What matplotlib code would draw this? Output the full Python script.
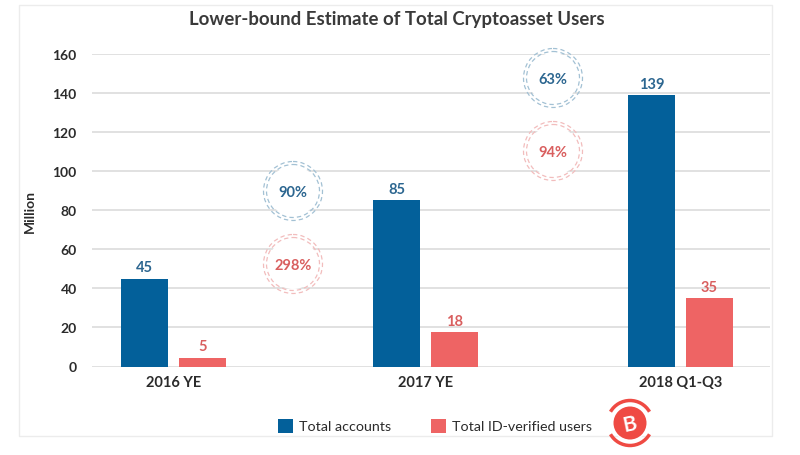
import matplotlib
matplotlib.use('Agg')
import matplotlib.pyplot as plt
from matplotlib.patches import Circle, Rectangle, Arc

plt.rcParams['font.family'] = ['Lato', 'DejaVu Sans']

W, H = 800, 456

categories = ['2016 YE', '2017 YE', '2018 Q1-Q3']
total_accounts = [45, 85, 139]
verified_users = [4.5, 17.5, 35]
accounts_labels = ['45', '85', '139']
verified_labels = ['5', '18', '35']
y_ticks = [0, 20, 40, 60, 80, 100, 120, 140, 160]
growth_accounts = ['90%', '63%']
growth_verified = ['298%', '94%']

BLUE = '#03609a'
RED = '#ee6464'
BLUE_TEXT = '#2c6690'
RED_TEXT = '#d95f5f'
DARK = '#2b2b2b'

fig = plt.figure(figsize=(W / 100, H / 100), dpi=100)

# overlay in pixel coordinates for frame, badges and legend
overlay = fig.add_axes([0, 0, 1, 1], zorder=3)
overlay.set_xlim(0, W)
overlay.set_ylim(H, 0)
overlay.axis('off')
overlay.patch.set_alpha(0)

left, right, top, bottom = 92, 770, 55, 367.5
ax = fig.add_axes([left / W, 1 - bottom / H, (right - left) / W, (bottom - top) / H], zorder=2)

group_x = [173.5, 425.5, 680.5]
bar_w = 47
offset = 29
for i, x in enumerate(group_x):
    ax.bar(x - offset, total_accounts[i], bar_w, color=BLUE, zorder=3)
    ax.bar(x + offset, verified_users[i], bar_w, color=RED, zorder=3)
    ax.text(x - offset, total_accounts[i] + 2.2, accounts_labels[i], ha='center', va='bottom',
            fontsize=10.5, fontweight='bold', color=BLUE_TEXT)
    ax.text(x + offset, verified_users[i] + 2.2, verified_labels[i], ha='center', va='bottom',
            fontsize=10.5, fontweight='bold', color=RED_TEXT)

ax.set_xlim(left, right)
ax.set_ylim(0, 160)
ax.set_yticks(y_ticks)
ax.set_xticks(group_x)
ax.set_xticklabels(categories)
ax.tick_params(axis='both', length=0, labelsize=10.5, labelcolor=DARK)
ax.tick_params(axis='y', labelsize=10, pad=11)
ax.tick_params(axis='x', pad=6)
for label in ax.get_xticklabels() + ax.get_yticklabels():
    label.set_fontweight('bold')
ax.grid(axis='y', color='#dedede', lw=1.3, zorder=0)
ax.set_axisbelow(True)
for s in ax.spines.values():
    s.set_visible(False)
ax.set_ylabel('Million', fontsize=10, fontweight='bold', color=DARK)
ax.yaxis.set_label_coords((36 - left) / (right - left), (bottom - 212) / (bottom - top))

# image frame
overlay.add_patch(Rectangle((19, 6), 753, 431, fill=False, ec='#ececec', lw=1))
overlay.text(397, 20, 'Lower-bound Estimate of Total Cryptoasset Users', ha='center', va='center',
             fontsize=13.4, fontweight='bold', color='#3a3a3a')


def badge(x, y, text, color, ring):
    for r in (29.5, 26.5):
        overlay.add_patch(Circle((x, y), r, fill=False, ec=ring, lw=0.9, ls=(0, (3.5, 2.5)), zorder=1))
    overlay.add_patch(Circle((x, y), 25, fc='white', ec='none', zorder=0.5))
    overlay.text(x, y + 1, text, ha='center', va='center', fontsize=10.5, fontweight='bold',
                 color=color, zorder=2)


badge(293, 192, growth_accounts[0], BLUE_TEXT, '#a3c1d4')
badge(293, 265, growth_verified[0], RED_TEXT, '#f2bdbd')
badge(553, 79, growth_accounts[1], BLUE_TEXT, '#a3c1d4')
badge(553, 152, growth_verified[1], RED_TEXT, '#f2bdbd')

# legend
overlay.add_patch(Rectangle((278, 420), 15, 14, fc=BLUE, ec='none'))
overlay.text(299, 427.5, 'Total accounts', va='center', fontsize=10.3, color=DARK)
overlay.add_patch(Rectangle((431, 420), 15, 14, fc=RED, ec='none'))
overlay.text(452, 427.5, 'Total ID-verified users', va='center', fontsize=10.3, color=DARK)

# watermark logo
logo_c = (630, 424)
overlay.add_patch(Circle(logo_c, 18, fc='white', ec='none', zorder=4))
overlay.add_patch(Circle(logo_c, 16.5, fc='#ef4a43', ec='none', zorder=5))
overlay.add_patch(Arc(logo_c, 45, 45, theta1=210, theta2=330, color='#ef4a43', lw=2.5, zorder=5))
overlay.add_patch(Arc(logo_c, 45, 45, theta1=30, theta2=150, color='#ef4a43', lw=2.5, zorder=5))
overlay.text(logo_c[0], logo_c[1] + 0.5, 'B', ha='center', va='center', rotation=12, fontsize=15,
             fontweight='bold', color='white', zorder=6)

fig.savefig('out.png', dpi=100)
